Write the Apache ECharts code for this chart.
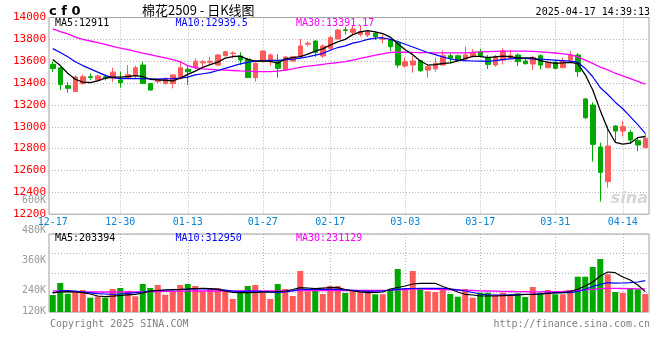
<!DOCTYPE html>
<html><head><meta charset="utf-8">
<script src="https://cdn.jsdelivr.net/npm/echarts@6/dist/echarts.min.js"></script>
<style>html,body{margin:0;padding:0;background:#fff}#c{width:660px;height:360px}</style>
</head><body><div id="c"></div>
<script>
const dates = ['12-17','12-18','12-19','12-20','12-23','12-24','12-25','12-26','12-27','12-30','12-31',
'01-02','01-03','01-06','01-07','01-08','01-09','01-10','01-13','01-14','01-15','01-16','01-17','01-20','01-21','01-22','01-23','01-24','01-27',
'02-05','02-06','02-07','02-10','02-11','02-12','02-13','02-14','02-17','02-18','02-19','02-20','02-21','02-24','02-25','02-26','02-27','02-28',
'03-03','03-04','03-05','03-06','03-07','03-10','03-11','03-12','03-13','03-14','03-17','03-18','03-19','03-20','03-21','03-24','03-25','03-26','03-27','03-28','03-31',
'04-01','04-02','04-03','04-07','04-08','04-09','04-10','04-11','04-14','04-15','04-16','04-17'];

const opens  = [13572,13540,13376,13322,13395,13458,13425,13458,13445,13428,13443,13465,13565,13397,13413,13397,13397,13443,13526,13541,
13585,13590,13565,13650,13670,13647,13620,13450,13596,13596,13596,13519,13602,13641,13755,13785,13648,13718,13803,13888,
13864,13846,13840,13855,13800,13794,13770,13556,13565,13605,13519,13530,13565,13650,13650,13620,13651,13687,13635,13565,
13611,13632,13657,13602,13574,13650,13541,13590,13541,13611,13657,13254,13199,12815,12498,13007,12961,12949,12873,12809];
const closes = [13532,13386,13352,13455,13458,13452,13465,13442,13500,13404,13477,13540,13397,13336,13434,13443,13474,13541,13504,13600,
13595,13600,13657,13687,13675,13611,13450,13580,13693,13657,13535,13638,13641,13739,13765,13681,13739,13815,13885,13882,
13895,13870,13870,13825,13805,13733,13565,13596,13602,13513,13550,13580,13650,13626,13605,13657,13681,13651,13571,13641,
13693,13650,13596,13577,13635,13565,13587,13535,13602,13657,13504,13083,12839,12583,12824,12961,13001,12879,12833,12894];
const lows   = [13502,13336,13312,13318,13385,13430,13415,13425,13410,13358,13440,13443,13397,13330,13400,13385,13352,13430,13382,13535,
13550,13565,13560,13645,13626,13565,13445,13413,13590,13560,13450,13510,13595,13630,13735,13641,13630,13705,13800,13845,
13835,13825,13820,13794,13765,13693,13540,13541,13495,13504,13450,13504,13560,13580,13595,13596,13632,13635,13530,13550,
13571,13617,13556,13571,13519,13525,13535,13525,13535,13605,13458,13071,12681,12315,12443,12864,12910,12848,12778,12805];
const highs  = [13600,13548,13410,13470,13478,13490,13478,13480,13540,13505,13565,13560,13596,13400,13440,13450,13480,13596,13565,13626,
13610,13640,13665,13695,13690,13681,13630,13590,13700,13670,13663,13645,13650,13803,13780,13790,13755,13830,13895,13915,
13930,13930,13880,13870,13840,13800,13775,13635,13650,13610,13560,13632,13700,13672,13660,13733,13712,13712,13657,13657,
13718,13702,13670,13626,13650,13663,13605,13611,13632,13693,13672,13266,13224,12855,13007,13015,13053,12970,12900,12940];

const ma5  = [13615,13560,13490,13435,13408,13405,13420,13445,13455,13455,13460,13468,13458,13435,13430,13425,13420,13445,13480,13510,
13543,13568,13591,13628,13643,13646,13616,13601,13602,13598,13583,13621,13633,13642,13664,13693,13713,13748,13777,13800,
13843,13869,13880,13868,13853,13821,13760,13705,13660,13602,13565,13568,13579,13584,13602,13624,13644,13644,13633,13640,
13647,13641,13630,13631,13630,13605,13592,13580,13585,13589,13577,13476,13337,13150,12980,12858,12842,12850,12900,12911];
const ma10 = [13715,13680,13640,13595,13560,13530,13500,13470,13450,13440,13440,13440,13440,13438,13436,13438,13440,13445,13455,13475,
13485,13495,13515,13535,13555,13575,13590,13600,13605,13608,13608,13612,13618,13628,13640,13655,13672,13700,13725,13740,
13765,13780,13800,13812,13815,13800,13780,13755,13730,13705,13680,13660,13640,13620,13610,13605,13602,13600,13598,13605,
13615,13622,13625,13625,13622,13620,13615,13610,13605,13600,13591,13534,13458,13359,13295,13225,13165,13093,13020,12940];
const ma30 = [13895,13870,13850,13820,13800,13785,13770,13755,13735,13720,13705,13690,13675,13660,13645,13630,13615,13595,13560,13540,
13530,13525,13520,13518,13515,13512,13510,13505,13505,13505,13510,13518,13530,13543,13555,13562,13572,13580,13588,13596,
13610,13625,13640,13655,13668,13680,13682,13682,13680,13679,13678,13677,13676,13676,13676,13677,13680,13685,13688,13690,
13692,13693,13693,13692,13690,13685,13680,13675,13668,13660,13640,13610,13580,13545,13520,13490,13465,13440,13415,13391];

const volumes = [170000,290000,183000,210000,220000,143000,157000,143000,230000,240000,210000,157000,280000,240000,270000,173000,207000,270000,280000,260000,
207000,240000,240000,213000,130000,193000,260000,270000,193000,130000,280000,230000,160000,410000,207000,227000,180000,260000,260000,190000,
207000,213000,193000,177000,177000,220000,430000,227000,410000,233000,207000,200000,220000,180000,153000,230000,143000,193000,193000,173000,
193000,167000,187000,150000,250000,193000,220000,177000,177000,220000,353000,353000,450000,530000,377000,200000,190000,240000,227000,180000];
const volMa5  = [193000,198000,203000,200000,193000,180000,160000,153000,158000,165000,172000,177000,190000,208000,215000,220000,223000,226000,230000,235000,
237000,233000,227000,210000,195000,193000,193000,195000,198000,200000,205000,210000,225000,243000,240000,233000,238000,243000,243000,225000,
210000,200000,193000,195000,200000,230000,245000,260000,280000,287000,287000,287000,255000,230000,200000,177000,170000,160000,160000,160000,
163000,167000,170000,175000,177000,180000,185000,190000,193000,205000,227000,260000,300000,360000,400000,393000,350000,320000,270000,203394];
const volMa10 = [187000,212000,215000,208000,200000,192000,183000,180000,177000,180000,187000,193000,200000,210000,215000,220000,222000,225000,228000,232000,
233000,230000,227000,218000,208000,207000,208000,210000,205000,198000,193000,200000,212000,227000,227000,227000,227000,227000,227000,222000,
217000,212000,207000,208000,210000,218000,226000,233000,235000,237000,237000,237000,237000,232000,222000,210000,195000,180000,170000,170000,
170000,172000,174000,176000,177000,182000,188000,193000,193000,193000,205000,227000,255000,277000,293000,288000,290000,293000,300000,312950];
const volMa30 = [212000,210000,207000,203000,200000,200000,200000,200000,200000,200000,200000,200000,202000,204000,205000,206000,207000,208000,209000,210000,
210000,210000,210000,210000,210000,210000,210000,210000,210000,210000,210000,212000,213000,215000,215000,215000,215000,215000,215000,215000,
215000,215000,215000,215000,215000,218000,222000,225000,228000,228000,227000,226000,225000,222000,220000,217000,215000,212000,210000,208000,
206000,205000,204000,203000,202000,202000,203000,204000,206000,210000,215000,222000,227000,233000,237000,236000,235000,234000,232000,231129];

const dateLabels = ['12-17','12-30','01-13','01-27','02-17','03-03','03-17','03-31','04-14'];
const volTickLabels = ['600K','480K','360K','240K','120K'];
const priceLegend = ['MA5:12911','MA10:12939.5','MA30:13391.17'];
const volLegend = ['MA5:203394','MA10:312950','MA30:231129'];
const titleCode = 'c f 0';
const titleName = '棉花2509 - 日K线图';
const timeStamp = '2025-04-17 14:39:13';
const footLeft = 'Copyright 2025 SINA.COM';
const footRight = 'http://finance.sina.com.cn';

const N = dates.length;
const labelIdx = dateLabels.map(l => dates.indexOf(l));
const gridIdx = labelIdx.filter(i => i > 0);
const UP = '#ff5b5b', DOWN = '#00a800';
const MONO = '"DejaVu Sans Mono", monospace';
const candles = dates.map((d, i) => [opens[i], closes[i], lows[i], highs[i]]);
const volData = volumes.map((v, i) => ({ value: v, itemStyle: { color: closes[i] >= opens[i] ? UP : DOWN } }));
const dotted = { show: true, lineStyle: { color: '#b4b4b4', type: [1, 2], width: 1 } };

function txt(x, y, text, fill, font, align) {
  return { type: 'text', x: x, y: y, z: 100, silent: true,
    style: { text: text, fill: fill, font: font, align: align || 'left', verticalAlign: 'middle' } };
}
const legendX = [55, 175.5, 296];
const legendColors = ['#000000', '#0000ff', '#ff00ff'];
const volLabelY = [200.7, 230, 260, 290.7, 311];

const graphics = [
  txt(49, 11.5, titleCode, '#000', 'bold 13px "DejaVu Sans"'),
  txt(142, 10.5, titleName, '#000', '13px "Noto Sans CJK SC"'),
  txt(650, 12, timeStamp, '#000', '10px ' + MONO, 'right'),
  txt(50, 324, footLeft, '#808080', '10px ' + MONO),
  txt(650, 324, footRight, '#808080', '10px ' + MONO, 'right'),
  txt(648, 199, 'sina', '#d6d6d6', 'italic bold 16px "DejaVu Sans"', 'right')
];
priceLegend.forEach((t, k) => graphics.push(txt(legendX[k], 23, t, legendColors[k], '10px ' + MONO)));
volLegend.forEach((t, k) => graphics.push(txt(legendX[k], 238.5, t, legendColors[k], '10px ' + MONO)));
volTickLabels.forEach((t, k) => graphics.push(txt(46, volLabelY[k], t, '#999999', '10px ' + MONO, 'right')));

const chart = echarts.init(document.getElementById('c'));
chart.setOption({
  animation: false,
  backgroundColor: '#ffffff',
  grid: [
    { left: 49, top: 17.5, width: 600, height: 196.7, show: true, borderColor: '#a0a0a0', borderWidth: 1 },
    { left: 49, top: 234, width: 600, height: 78, show: true, borderColor: '#a0a0a0', borderWidth: 1 }
  ],
  xAxis: [
    { type: 'category', gridIndex: 0, data: dates, show: false },
    { type: 'value', gridIndex: 0, min: -0.5, max: N - 0.5, position: 'bottom',
      axisLine: { show: false }, axisTick: { show: false, customValues: gridIdx },
      axisLabel: { customValues: labelIdx, formatter: v => dates[Math.round(v)], color: '#0a84d6', fontFamily: MONO, fontSize: 10, margin: 3 },
      splitLine: dotted },
    { type: 'category', gridIndex: 1, data: dates, show: false },
    { type: 'value', gridIndex: 1, min: -0.5, max: N - 0.5, position: 'bottom',
      axisLine: { show: false }, axisTick: { show: false, customValues: gridIdx },
      axisLabel: { show: false }, splitLine: dotted }
  ],
  yAxis: [
    { type: 'value', gridIndex: 0, min: 12200, max: 14000, interval: 200,
      axisLine: { show: false }, axisTick: { show: false },
      axisLabel: { color: '#ff0000', fontFamily: MONO, fontSize: 11, margin: 3, padding: [0, 0, 4, 0], formatter: v => String(v) },
      splitLine: dotted },
    { type: 'value', gridIndex: 1, min: 0, max: 780000, interval: 195000,
      axisLine: { show: false }, axisTick: { show: false }, axisLabel: { show: false },
      splitLine: dotted }
  ],
  graphic: graphics,
  series: [
    { type: 'candlestick', xAxisIndex: 0, yAxisIndex: 0, data: candles, barWidth: 5,
      itemStyle: { color: UP, color0: DOWN, borderColor: UP, borderColor0: DOWN, borderWidth: 1 } },
    { type: 'line', xAxisIndex: 0, yAxisIndex: 0, data: ma30, symbol: 'none', lineStyle: { color: '#ff00ff', width: 1.3 }, z: 3 },
    { type: 'line', xAxisIndex: 0, yAxisIndex: 0, data: ma10, symbol: 'none', lineStyle: { color: '#0000ff', width: 1.2 }, z: 3 },
    { type: 'line', xAxisIndex: 0, yAxisIndex: 0, data: ma5, symbol: 'none', lineStyle: { color: '#000000', width: 1.3 }, z: 3 },
    { type: 'bar', xAxisIndex: 2, yAxisIndex: 1, data: volData, barWidth: 6 },
    { type: 'line', xAxisIndex: 2, yAxisIndex: 1, data: volMa30, symbol: 'none', lineStyle: { color: '#ff00ff', width: 1.3 }, z: 3 },
    { type: 'line', xAxisIndex: 2, yAxisIndex: 1, data: volMa10, symbol: 'none', lineStyle: { color: '#0000ff', width: 1.2 }, z: 3 },
    { type: 'line', xAxisIndex: 2, yAxisIndex: 1, data: volMa5, symbol: 'none', lineStyle: { color: '#000000', width: 1.2 }, z: 3 }
  ]
});
</script></body></html>
